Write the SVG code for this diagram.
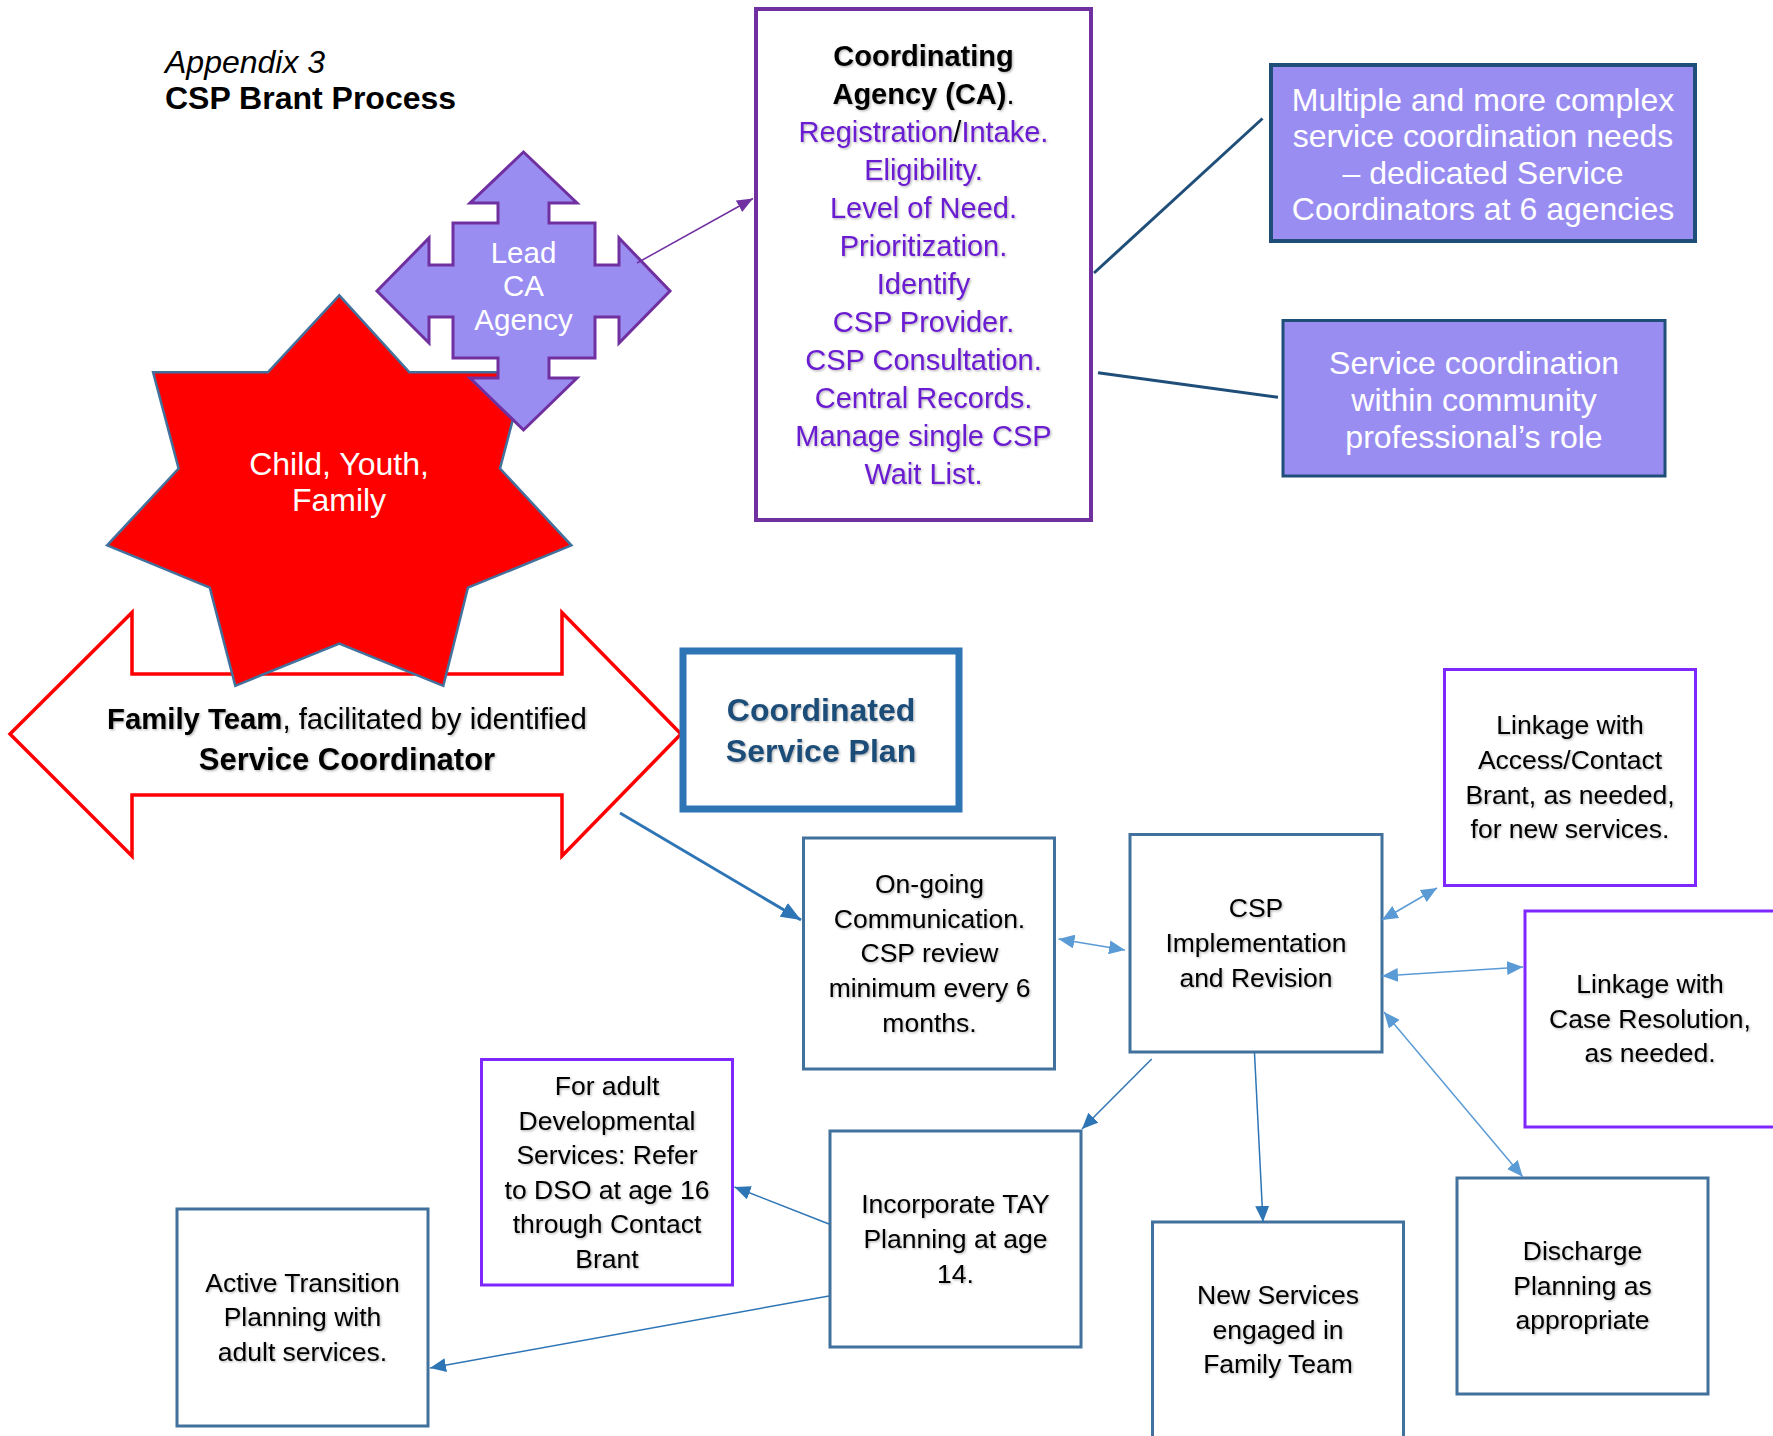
<svg xmlns="http://www.w3.org/2000/svg" width="1773" height="1436" viewBox="0 0 1773 1436">
<style>
text{font-family:"Liberation Sans",Arial,sans-serif;}
.box{fill:#fff;stroke:#41719C;stroke-width:3;}
.pbox{fill:#fff;stroke:#7F27FF;stroke-width:3;}
.lav{fill:#9A8DF2;stroke:#1F4E79;}
.bt{font-size:26.5px;fill:#000;text-anchor:middle;filter:url(#sh);}
.ct{font-size:29px;fill:#6A1BD0;text-anchor:middle;filter:url(#sh);}
.wt{font-size:32px;fill:#fff;text-anchor:middle;}
.c1{fill:none;stroke:#2E75B6;stroke-width:1.5;}
.c2{fill:none;stroke:#5B9BD5;stroke-width:1.5;}
.c3{fill:none;stroke:#1F4E79;stroke-width:3;}
</style>
<defs>
<filter id="sh" x="-10%" y="-30%" width="120%" height="160%">
<feDropShadow dx="1.2" dy="1.2" stdDeviation="0.8" flood-color="#000" flood-opacity="0.3"/>
</filter>
<marker id="ab" markerUnits="userSpaceOnUse" markerWidth="16" markerHeight="14" refX="16" refY="7" orient="auto-start-reverse"><path d="M0,0 L16,7 L0,14 z" fill="#2E75B6"/></marker>
<marker id="abig" markerUnits="userSpaceOnUse" markerWidth="20" markerHeight="16" refX="20" refY="8" orient="auto-start-reverse"><path d="M0,0 L20,8 L0,16 z" fill="#2E75B6"/></marker>
<marker id="al" markerUnits="userSpaceOnUse" markerWidth="16" markerHeight="14" refX="16" refY="7" orient="auto-start-reverse"><path d="M0,0 L16,7 L0,14 z" fill="#5B9BD5"/></marker>
<marker id="ap" markerUnits="userSpaceOnUse" markerWidth="16" markerHeight="13" refX="16" refY="6.5" orient="auto-start-reverse"><path d="M0,0 L16,6.5 L0,13 z" fill="#7030A0"/></marker>
</defs>

<g id="title">
<text x="165" y="73" font-size="32" font-style="italic" fill="#000">Appendix 3</text>
<text x="165" y="109" font-size="32" font-weight="bold" fill="#000">CSP Brant Process</text>
</g>

<g id="family-team">
<polygon points="10,734 132,612.5 132,674 562,674 562,612.5 681,734 562,856 562,795 132,795 132,856" fill="#fff" stroke="#FF0000" stroke-width="3.5"/>
<text x="347" y="729" font-size="29.3" text-anchor="middle" fill="#000" filter="url(#sh)"><tspan font-weight="bold">Family Team</tspan>, facilitated by identified</text>
<text x="347" y="770" font-size="31" text-anchor="middle" font-weight="bold" fill="#000" filter="url(#sh)">Service Coordinator</text>
</g>

<g id="child-youth-family">
<polygon points="339.3,295.4 409.4,372.3 525.4,372.3 500,468.5 571.4,545.4 467.9,587.7 443.3,685.8 339.3,643.5 235.3,685.8 209.8,587.7 107.1,545.4 178.6,468.5 153.1,372.3 267.9,372.3" fill="#FF0000" stroke="#41719C" stroke-width="2.5"/>
<text class="wt" x="339" y="475" font-size="32.5">Child, Youth,</text>
<text class="wt" x="339" y="511" font-size="32.5">Family</text>
</g>

<g id="lead-ca">
<polygon points="523.5,152 577,203 549,203 549,223 595,223 595,265 619,265 619,238 670,291 619,343 619,317 595,317 595,358 549,358 549,378 577,378 523.5,430 470,378 498,378 498,358 453,358 453,317 429,317 429,343 377,291 429,238 429,265 453,265 453,223 498,223 498,203 470,203" fill="#9A8DF2" stroke="#7030A0" stroke-width="3"/>
<text class="wt" x="523.5" y="263" style="font-size:29.5px">Lead</text>
<text class="wt" x="523.5" y="296" style="font-size:29.5px">CA</text>
<text class="wt" x="523.5" y="329.5" style="font-size:29.5px">Agency</text>
</g>

<g id="coordinating-agency">
<rect x="756" y="9" width="335" height="511" fill="#fff" stroke="#7030A0" stroke-width="4"/>
<text class="ct" x="923.5" y="65.5" font-weight="bold" style="fill:#000">Coordinating</text>
<text class="ct" x="923.5" y="103.5" style="fill:#000"><tspan font-weight="bold">Agency (CA)</tspan>.</text>
<text class="ct" x="923.5" y="141.6">Registration<tspan style="fill:#000">/</tspan>Intake.</text>
<text class="ct" x="923.5" y="179.6">Eligibility.</text>
<text class="ct" x="923.5" y="217.7">Level of Need.</text>
<text class="ct" x="923.5" y="255.7">Prioritization.</text>
<text class="ct" x="923.5" y="293.8">Identify</text>
<text class="ct" x="923.5" y="331.8">CSP Provider.</text>
<text class="ct" x="923.5" y="369.9">CSP Consultation.</text>
<text class="ct" x="923.5" y="407.9">Central Records.</text>
<text class="ct" x="923.5" y="446">Manage single CSP</text>
<text class="ct" x="923.5" y="484">Wait List.</text>
</g>

<g id="complex-needs">
<rect class="lav" x="1271" y="65" width="424" height="176" stroke-width="4"/>
<text class="wt" x="1483" y="110.6">Multiple and more complex</text>
<text class="wt" x="1483" y="147.2">service coordination needs</text>
<text class="wt" x="1483" y="183.8">– dedicated Service</text>
<text class="wt" x="1483" y="220.3">Coordinators at 6 agencies</text>
</g>

<g id="community-role">
<rect class="lav" x="1283" y="320.5" width="382" height="155.5" stroke-width="3"/>
<text class="wt" x="1474" y="374.4">Service coordination</text>
<text class="wt" x="1474" y="411.2">within community</text>
<text class="wt" x="1474" y="447.9">professional’s role</text>
</g>

<g id="coordinated-service-plan">
<rect x="683" y="651" width="276" height="158" fill="#fff" stroke="#2E75B6" stroke-width="7"/>
<text x="821" y="720.5" font-size="32" font-weight="bold" fill="#1F4E79" text-anchor="middle" filter="url(#sh)">Coordinated</text>
<text x="821" y="762" font-size="32" font-weight="bold" fill="#1F4E79" text-anchor="middle" filter="url(#sh)">Service Plan</text>
</g>

<g id="ongoing">
<rect class="box" x="803.5" y="838" width="251" height="231"/>
<text class="bt" x="929.5" y="893">On-going</text>
<text class="bt" x="929.5" y="927.5">Communication.</text>
<text class="bt" x="929.5" y="962">CSP review</text>
<text class="bt" x="929.5" y="996.5">minimum every 6</text>
<text class="bt" x="929.5" y="1031.5">months.</text>
</g>

<g id="csp-implementation">
<rect class="box" x="1130" y="834.5" width="252" height="217.5"/>
<text class="bt" x="1256" y="916.7">CSP</text>
<text class="bt" x="1256" y="951.7">Implementation</text>
<text class="bt" x="1256" y="986.7">and Revision</text>
</g>

<g id="linkage-access">
<rect class="pbox" x="1444.5" y="669.5" width="251" height="216"/>
<text class="bt" x="1570" y="734">Linkage with</text>
<text class="bt" x="1570" y="769">Access/Contact</text>
<text class="bt" x="1570" y="803.5">Brant, as needed,</text>
<text class="bt" x="1570" y="838">for new services.</text>
</g>

<g id="linkage-case">
<rect class="pbox" x="1525" y="911" width="260" height="216"/>
<text class="bt" x="1650" y="992.5">Linkage with</text>
<text class="bt" x="1650" y="1027.5">Case Resolution,</text>
<text class="bt" x="1650" y="1062">as needed.</text>
</g>

<g id="tay">
<rect class="box" x="830" y="1131" width="251" height="216"/>
<text class="bt" x="955.5" y="1212.5">Incorporate TAY</text>
<text class="bt" x="955.5" y="1248">Planning at age</text>
<text class="bt" x="955.5" y="1282.5">14.</text>
</g>

<g id="adult-developmental">
<rect class="pbox" x="481.5" y="1059.5" width="251" height="225.5"/>
<text class="bt" x="607" y="1095">For adult</text>
<text class="bt" x="607" y="1129.5">Developmental</text>
<text class="bt" x="607" y="1164">Services: Refer</text>
<text class="bt" x="607" y="1198.5">to DSO at age 16</text>
<text class="bt" x="607" y="1233">through Contact</text>
<text class="bt" x="607" y="1267.5">Brant</text>
</g>

<g id="active-transition">
<rect class="box" x="177" y="1209" width="251" height="217"/>
<text class="bt" x="302.5" y="1291.5">Active Transition</text>
<text class="bt" x="302.5" y="1326">Planning with</text>
<text class="bt" x="302.5" y="1360.5">adult services.</text>
</g>

<g id="new-services">
<rect class="box" x="1152.5" y="1222" width="251" height="240"/>
<text class="bt" x="1278" y="1304">New Services</text>
<text class="bt" x="1278" y="1338.5">engaged in</text>
<text class="bt" x="1278" y="1373">Family Team</text>
</g>

<g id="discharge">
<rect class="box" x="1457" y="1178" width="251" height="216"/>
<text class="bt" x="1582.5" y="1260">Discharge</text>
<text class="bt" x="1582.5" y="1295">Planning as</text>
<text class="bt" x="1582.5" y="1329">appropriate</text>
</g>

<g id="connectors">
<line x1="637" y1="263" x2="753" y2="198.5" stroke="#7030A0" stroke-width="1.5" marker-end="url(#ap)"/>
<line class="c3" x1="1094" y1="273" x2="1262.5" y2="118.5"/>
<line class="c3" x1="1098" y1="372.7" x2="1278" y2="397.3"/>
<line x1="620" y1="813" x2="801" y2="920" stroke="#2E75B6" stroke-width="3" marker-end="url(#abig)"/>
<line class="c2" x1="1058.5" y1="939" x2="1125" y2="950" marker-start="url(#al)" marker-end="url(#al)"/>
<line class="c2" x1="1382" y1="920" x2="1437" y2="888" marker-start="url(#al)" marker-end="url(#al)"/>
<line class="c2" x1="1382" y1="976" x2="1523" y2="967" marker-start="url(#al)" marker-end="url(#al)"/>
<line class="c2" x1="1384" y1="1012" x2="1522.7" y2="1176.7" marker-start="url(#al)" marker-end="url(#al)"/>
<line class="c1" x1="1254.5" y1="1053" x2="1263" y2="1222" marker-end="url(#ab)"/>
<line class="c1" x1="1151.7" y1="1059" x2="1082" y2="1129" marker-end="url(#ab)"/>
<line class="c1" x1="829" y1="1224" x2="734.5" y2="1187" marker-end="url(#ab)"/>
<line class="c1" x1="829" y1="1296" x2="430" y2="1368" marker-end="url(#ab)"/>
</g>
</svg>
